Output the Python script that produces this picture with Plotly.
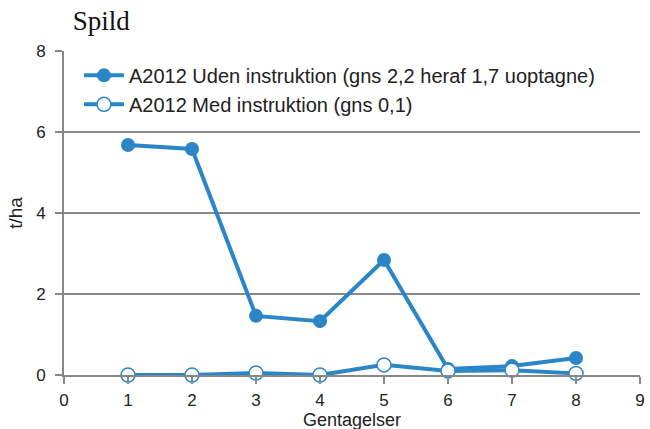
import plotly.graph_objects as go

gentagelser = [1, 2, 3, 4, 5, 6, 7, 8]
uden_instruktion = [5.68, 5.58, 1.46, 1.33, 2.84, 0.15, 0.22, 0.42]
med_instruktion = [0.0, 0.0, 0.05, 0.0, 0.25, 0.1, 0.12, 0.04]

blue = "#2a86c6"

fig = go.Figure()

fig.add_trace(go.Scatter(
    x=gentagelser, y=uden_instruktion,
    mode="lines+markers",
    name="A2012 Uden instruktion (gns 2,2 heraf 1,7 uoptagne)",
    line=dict(color=blue, width=4),
    marker=dict(color=blue, size=14, symbol="circle"),
    cliponaxis=False,
))

fig.add_trace(go.Scatter(
    x=gentagelser, y=med_instruktion,
    mode="lines+markers",
    name="A2012 Med instruktion (gns 0,1)",
    line=dict(color=blue, width=4),
    marker=dict(color="white", size=14, symbol="circle",
                line=dict(color=blue, width=1.5)),
    cliponaxis=False,
))

fig.update_layout(
    width=650, height=429,
    plot_bgcolor="white", paper_bgcolor="white",
    margin=dict(l=64, r=10, t=51, b=54),
    font=dict(family="Liberation Sans, Arial, sans-serif", size=17, color="#222"),
    title=dict(text="Spild", x=0.112, xanchor="left", y=0.951, yanchor="middle",
               font=dict(family="Liberation Serif, Times New Roman, serif", size=27, color="#111")),
    legend=dict(x=0.026, y=0.985, xanchor="left", yanchor="top",
                bgcolor="rgba(0,0,0,0)", font=dict(size=20, color="#222"),
                itemwidth=40, tracegroupgap=2),
    showlegend=True,
)

# x title as an annotation so it can sit tight under the tick labels
fig.add_annotation(text="Gentagelser", xref="paper", yref="paper",
                   x=0.5, y=-0.14, xanchor="center", yanchor="middle",
                   showarrow=False, font=dict(size=18))

fig.update_xaxes(
    range=[0, 9], dtick=1, tick0=0, automargin=False,
    showline=True, linecolor="#888", linewidth=2,
    ticks="outside", ticklen=7, tickcolor="#888", tickwidth=2,
    ticklabelstandoff=2,
    showgrid=False, zeroline=False,
)
fig.update_yaxes(
    range=[0, 8], dtick=2, automargin=False,
    showline=True, linecolor="#888", linewidth=2,
    ticks="outside", ticklen=7, tickcolor="#888", tickwidth=2,
    ticklabelstandoff=6,
    showgrid=True, gridcolor="#888", gridwidth=1.5, zeroline=False,
    title=dict(text="t/ha", standoff=8, font=dict(size=19)),
)

# the page body has a default 8px margin, drop it so the figure sits at 0,0
fig.write_html("out.html", config={"displayModeBar": False},
               post_script="document.body.style.margin='0';")
